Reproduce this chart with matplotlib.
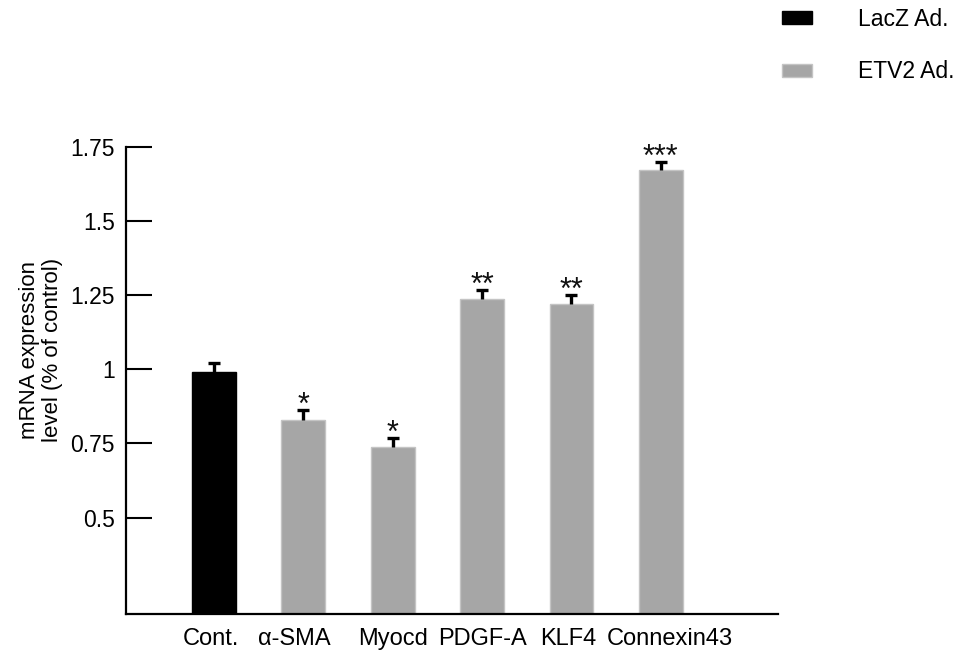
import numpy as np
import matplotlib
matplotlib.use("Agg")
import matplotlib.pyplot as plt
from matplotlib.patches import Patch

plt.rcParams['font.family'] = ['Liberation Sans', 'DejaVu Sans']

# data
genes = ['Cont.', 'α-SMA', 'Myocd', 'PDGF-A', 'KLF4', 'Connexin43']
means = [0.99, 0.83, 0.737, 1.237, 1.22, 1.672]
errors = [0.03, 0.033, 0.031, 0.03, 0.03, 0.027]
stars = ['', '*', '*', '**', '**', '***']
groups = ['LacZ Ad.', 'ETV2 Ad.', 'ETV2 Ad.', 'ETV2 Ad.', 'ETV2 Ad.', 'ETV2 Ad.']
yticks = [0.5, 0.75, 1, 1.25, 1.5, 1.75]
ytick_labels = ['0.5', '0.75', '1', '1.25', '1.5', '1.75']

group_colors = {'LacZ Ad.': '#000000', 'ETV2 Ad.': '#a6a6a6'}
edge_colors = {'LacZ Ad.': '#000000', 'ETV2 Ad.': '#c4c4c4'}
# category labels are not exactly centred under the bars in the original
label_shift_pt = [-2.5, -6.5, 0.5, 0, -2, 6.5]

fig = plt.figure(figsize=(9.6, 6.52), dpi=100)
ax = fig.add_axes([0.1313, 0.0583, 0.679, 0.7167])

x = np.arange(len(genes))
tops = np.array(means) + np.array(errors)
ax.bar(x, means, width=0.49,
       color=[group_colors[g] for g in groups],
       edgecolor=[edge_colors[g] for g in groups], linewidth=1, zorder=2)
# upper error bars only
ax.vlines(x, means, tops, colors='black', linewidth=2.4, zorder=3)
ax.plot(x, tops, ls='none', marker='_', markersize=9, markeredgewidth=2.4,
        color='black', zorder=3)

# significance stars
for xi, t, s in zip(x, tops, stars):
    if s:
        ax.annotate(s, (xi, t), xytext=(0, -8), textcoords='offset points',
                    ha='center', va='bottom', fontsize=22, color='#111111')

ax.set_xlim(-0.984, 6.31)
ax.set_ylim(0.175, 1.75)
ax.set_yticks(yticks)
ax.set_yticklabels(ytick_labels, fontsize=16.5)
ax.set_xticks(x)
ax.set_xticklabels([])
ax.tick_params(axis='y', direction='in', length=19, width=1.5, pad=8)
ax.tick_params(axis='x', length=0)

for xi, g, dx in zip(x, genes, label_shift_pt):
    ax.annotate(g, (xi, 0), xycoords=('data', 'axes fraction'),
                xytext=(dx, -10), textcoords='offset points',
                ha='center', va='top', fontsize=17)

for side in ['top', 'right']:
    ax.spines[side].set_visible(False)
for side in ['left', 'bottom']:
    ax.spines[side].set_linewidth(1.6)

fig.text(41 / 960, 1 - 350 / 652, 'mRNA expression\nlevel (% of control)',
         rotation=90, ha='center', va='center', fontsize=16,
         multialignment='center', linespacing=1.1)

handles = [Patch(facecolor=group_colors[g], edgecolor=edge_colors[g], label=g)
           for g in ['LacZ Ad.', 'ETV2 Ad.']]
fig.legend(handles=handles, loc='upper left', bbox_to_anchor=(782 / 960, 1 - 8 / 652),
           frameon=False, fontsize=16.5, handlelength=1.3, handleheight=0.5,
           handletextpad=2.0, labelspacing=1.28, borderpad=0, borderaxespad=0)

fig.savefig('out.png', dpi=100)
